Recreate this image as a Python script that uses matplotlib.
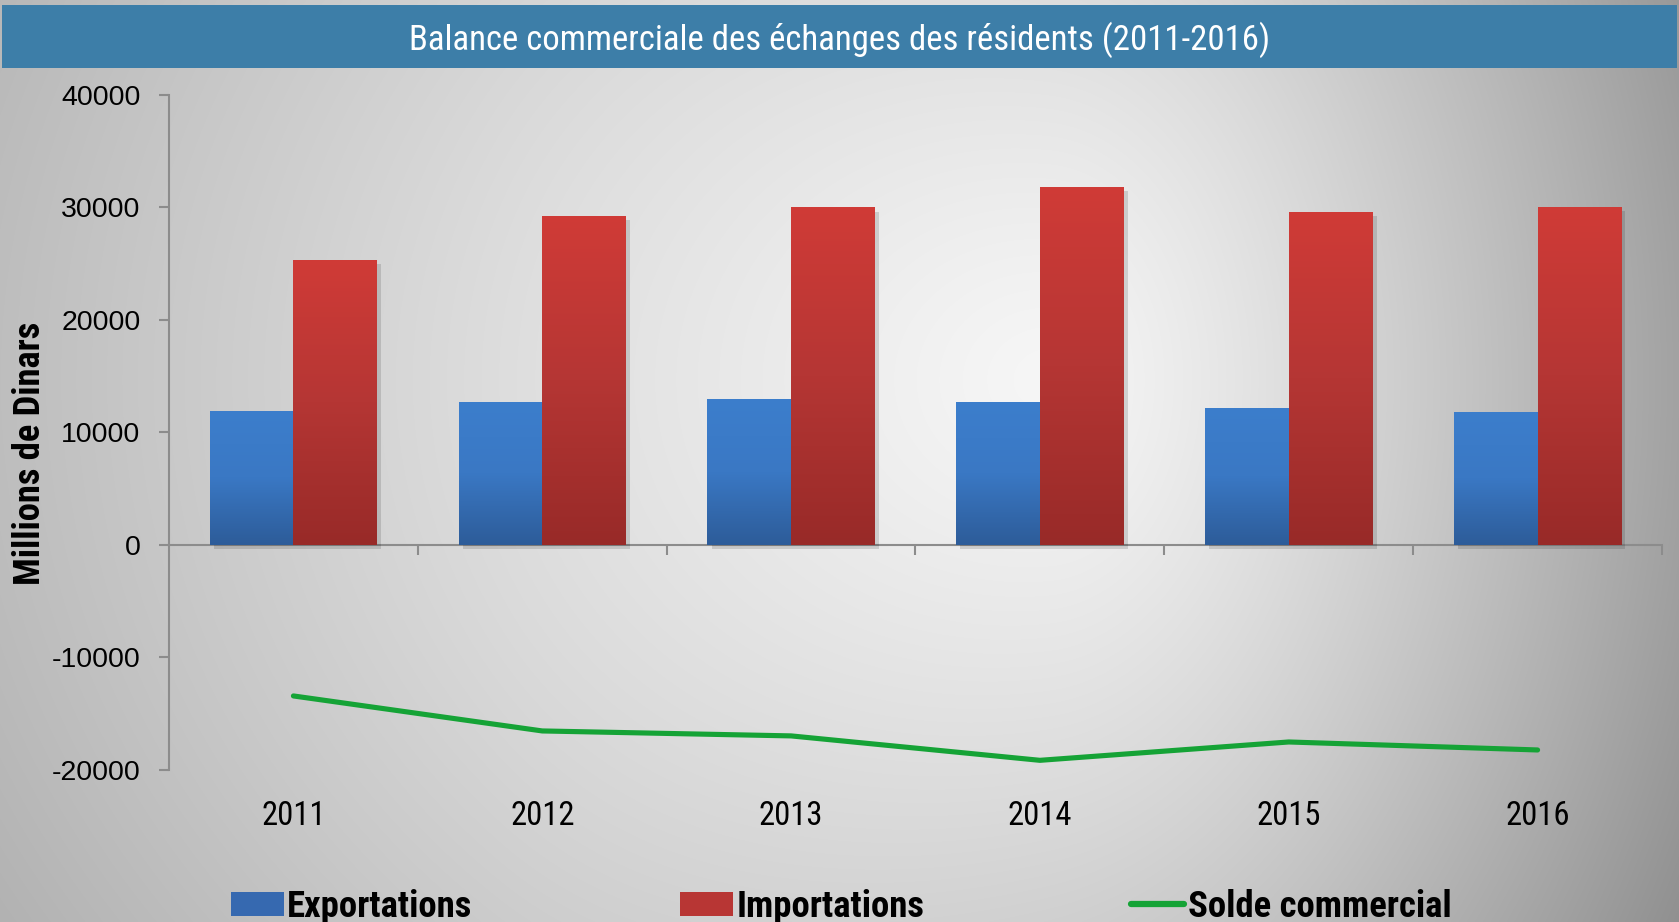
import numpy as np
import matplotlib
matplotlib.use("Agg")
import matplotlib.pyplot as plt
from matplotlib import font_manager, patheffects
from matplotlib.patches import Rectangle, Patch
from matplotlib.lines import Line2D
from matplotlib.colors import LinearSegmentedColormap

# data (millions de dinars)
years = ["2011", "2012", "2013", "2014", "2015", "2016"]
exportations = [11910, 12710, 12940, 12660, 12180, 11820]
importations = [25330, 29240, 29980, 31790, 29600, 30040]
solde = [-13420, -16530, -16970, -19140, -17510, -18220]

W, H = 1679, 922
plt.rcParams["axes.unicode_minus"] = False


def _stretch(f):
    s = f.stretch
    if isinstance(s, str):
        s = font_manager.stretch_dict.get(s, 500)
    return s


def condensed_font(bold):
    order = ["Liberation Sans Narrow", "Arial Narrow", "Roboto Condensed", "Open Sans Condensed",
             "Noto Sans Condensed", "Open Sans", "Noto Sans", "DejaVu Sans Condensed", "DejaVu Sans"]
    best = None
    for f in font_manager.fontManager.ttflist:
        if f.style != "normal":
            continue
        narrowish = ("Narrow" in f.name or "Condensed" in f.name or 200 <= _stretch(f) <= 400)
        if not narrowish or f.name not in order:
            continue
        w = f.weight if isinstance(f.weight, int) else font_manager.weight_dict.get(f.weight, 400)
        key = (order.index(f.name), abs(_stretch(f) - 300), abs(w - (700 if bold else 400)))
        if best is None or key < best[0]:
            best = (key, f.fname)
    return best[1] if best else None


reg_path = condensed_font(False)
bold_path = condensed_font(True)


def nfont(size, bold=False):
    path = bold_path if bold else reg_path
    if path:
        return font_manager.FontProperties(fname=path, size=size)
    return font_manager.FontProperties(family="Liberation Sans", size=size * 0.85,
                                       weight="bold" if bold else "normal")


def background():
    yy, xx = np.mgrid[0:H, 0:W].astype(float)
    cx, cy = 1050.0, 380.0
    dx = np.where(xx < cx, (cx - xx) / cx, (xx - cx) / (W - cx))
    dy = (yy - cy) / 900.0
    r = np.sqrt(dx ** 2 + dy ** 2)
    t = np.clip((xx - 500) / 1000, 0, 1)
    t = t * t * (3 - 2 * t)
    edge = 0.745 + (0.635 - 0.745) * t
    v = 0.965 - (0.965 - edge) * np.clip(r, 0, 1.3) ** 1.25
    return np.dstack([v, v, v])


fig = plt.figure(figsize=(W / 100, H / 100), dpi=100)

bg = fig.add_axes([0, 0, 1, 1], zorder=-10)
bg.imshow(background(), aspect="auto", extent=[0, 1, 0, 1], interpolation="bilinear")
bg.axis("off")

# title bar
fig.patches.append(Rectangle((2 / W, 1 - 68 / H), 1675 / W, 63 / H, transform=fig.transFigure,
                             facecolor="#3D7EA8", edgecolor="none", zorder=1))
fig.text(0.5, 1 - 40 / H, "Balance commerciale des échanges des résidents (2011-2016)",
         ha="center", va="center", color="white", fontproperties=nfont(25), zorder=5)

left, right = 169 / W, 1662 / W
bottom, top = 1 - 770 / H, 1 - 94.7 / H
ax = fig.add_axes([left, bottom, right - left, top - bottom], zorder=2)
ax.patch.set_visible(False)

x = np.arange(len(years))
bw = 0.336
grey = "#8C8C8C"

blue_cmap = LinearSegmentedColormap.from_list("b", ["#2D5C99", "#3A78C4", "#3C7ECC"])
red_cmap = LinearSegmentedColormap.from_list("r", ["#982A28", "#B53634", "#D03B37"])
shadow = [patheffects.SimplePatchShadow(offset=(3, -3), shadow_rgbFace="k", alpha=0.13),
          patheffects.Normal()]

b1 = ax.bar(x - bw / 2, exportations, bw, color="#3369AF", zorder=3, path_effects=shadow)
b2 = ax.bar(x + bw / 2, importations, bw, color="#B53634", zorder=3, path_effects=shadow)

grad = np.linspace(0, 1, 256).reshape(-1, 1)
for bars, cmap in ((b1, blue_cmap), (b2, red_cmap)):
    for rect in bars:
        x0, w, h = rect.get_x(), rect.get_width(), rect.get_height()
        im = ax.imshow(grad, cmap=cmap, origin="lower", aspect="auto",
                       extent=(x0, x0 + w, 0, h), zorder=3.5)
        im.set_clip_path(rect)

ax.plot(x, solde, color="#15A336", lw=3.7, solid_capstyle="round", zorder=4)

ax.set_xlim(-0.5, len(years) - 0.5)
ax.set_ylim(-20000, 40000)

for s in ("top", "right"):
    ax.spines[s].set_visible(False)
ax.spines["left"].set_color(grey)
ax.spines["left"].set_linewidth(1.5)
ax.spines["bottom"].set_position(("data", 0))
ax.spines["bottom"].set_color(grey)
ax.spines["bottom"].set_linewidth(1.5)
ax.spines["bottom"].set_zorder(2)

ax.set_yticks(np.arange(-20000, 40001, 10000))
ax.tick_params(axis="y", length=7.5, width=1.5, color=grey, pad=13, labelsize=20.5)
for lab in ax.get_yticklabels():
    lab.set_family("Liberation Sans")

ax.set_xticks(np.arange(0.5, len(years), 1.0))
ax.set_xticklabels([])
ax.tick_params(axis="x", length=7.5, width=1.5, color=grey, direction="out")

sec = ax.secondary_xaxis("bottom")
sec.spines["bottom"].set_visible(False)
sec.set_xticks(x, labels=years)
sec.tick_params(length=0, pad=21.5)
for lab in sec.get_xticklabels():
    lab.set_fontproperties(nfont(23.5))

fig.text(30 / W, 1 - 453 / H, "Millions de Dinars", rotation=90, ha="center", va="center",
         fontproperties=nfont(26.3, bold=True))

handles = [Patch(facecolor="#3669B0", edgecolor="none"),
           Patch(facecolor="#B83634", edgecolor="none"),
           Line2D([], [], color="#15A336", lw=4.5, solid_capstyle="round")]
fig.legend(handles, ["Exportations", "Importations", "Solde commercial"],
           loc="center", bbox_to_anchor=(0.501, 1 - 907 / H), ncol=3, frameon=False,
           prop=nfont(26.5, bold=True),
           handlelength=1.44, handleheight=0.64, handletextpad=0.1, columnspacing=5.63,
           borderpad=0, borderaxespad=0)

fig.savefig("out.png", dpi=100)
